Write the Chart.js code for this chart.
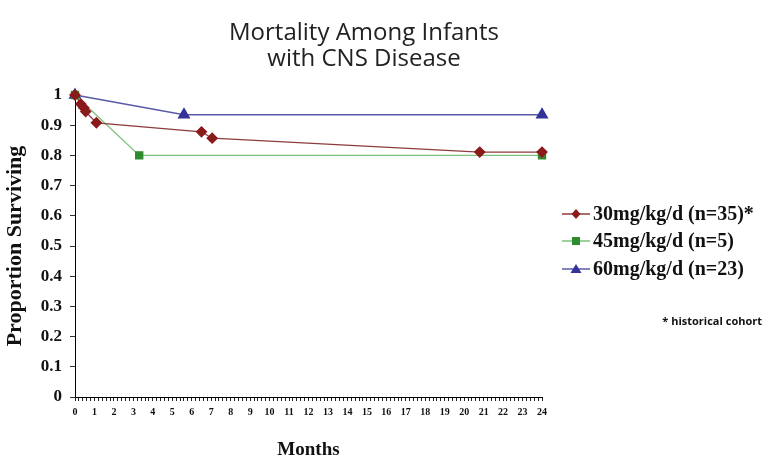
<!DOCTYPE html>
<html>
<head>
<meta charset="utf-8">
<script src="https://cdn.jsdelivr.net/npm/chart.js@4.4.1/dist/chart.umd.min.js"></script>
<style>
  html, body { margin: 0; padding: 0; background: #fff; }
  #wrap { width: 766px; height: 461px; position: relative; }
</style>
</head>
<body>
<div id="wrap"><canvas id="survChart"></canvas></div>
<script>
// --- data ---
const titleLines = ['Mortality Among Infants', 'with CNS Disease'];
const seriesNames = ['30mg/kg/d (n=35)*', '45mg/kg/d (n=5)', '60mg/kg/d (n=23)'];
const noteText = '* historical cohort';

const months30 = [0, 0.3, 0.45, 0.55, 1.1, 6.5, 7.05, 20.8, 24];
const surv30   = [1, 0.97, 0.958, 0.945, 0.908, 0.878, 0.857, 0.811, 0.811];
const months45 = [0, 3.3, 24];
const surv45   = [1, 0.80, 0.80];
const months60 = [0, 5.6, 24];
const surv60   = [1, 0.935, 0.935];

const yTicks = [0, 0.1, 0.2, 0.3, 0.4, 0.5, 0.6, 0.7, 0.8, 0.9, 1];
const monthTicks = [0, 1, 2, 3, 4, 5, 6, 7, 8, 9, 10, 11, 12, 13, 14, 15, 16, 17, 18, 19, 20, 21, 22, 23, 24];
const minorPerMonth = 5; // little tick marks between month labels

const toPts = (xs, ys) => xs.map((x, i) => ({ x: x, y: ys[i] }));

const serif = "'Liberation Serif', 'DejaVu Serif', serif";

// title + legend + note drawn by hand so the placement matches
const decorPlugin = {
    id: 'decor',
    afterDraw(chart) {
        const c = chart.ctx;
        c.save();
        // title
        c.fillStyle = '#222';
        c.font = "24px 'Open Sans', sans-serif";
        c.textAlign = 'center';
        c.textBaseline = 'middle';
        c.fillText(titleLines[0], 364, 33);
        c.fillText(titleLines[1], 364, 59);

        // legend
        const rows = [214, 241, 269];
        chart.data.datasets.forEach((ds, i) => {
            const y = rows[i];
            c.strokeStyle = ds.borderColor;
            c.lineWidth = 1.5;
            c.beginPath(); c.moveTo(562, y); c.lineTo(590, y); c.stroke();
            c.fillStyle = ds.pointBackgroundColor;
            const mx = 576;
            c.beginPath();
            if (ds.pointStyle === 'rectRot') {
                c.moveTo(mx, y - 5); c.lineTo(mx + 4.5, y); c.lineTo(mx, y + 5); c.lineTo(mx - 4.5, y);
            } else if (ds.pointStyle === 'rect') {
                c.rect(mx - 4, y - 4, 8, 8);
            } else {
                c.moveTo(mx, y - 5); c.lineTo(mx + 5.5, y + 4); c.lineTo(mx - 5.5, y + 4);
            }
            c.closePath(); c.fill();
            c.fillStyle = '#111';
            c.font = 'bold 20px ' + serif;
            c.textAlign = 'left';
            c.fillText(ds.label, 593, y + 1);
        });

        // footnote
        c.font = "bold 11px 'Open Sans', sans-serif";
        c.textAlign = 'right';
        c.fillText(noteText, 762, 322);
        c.restore();
    }
};

new Chart(document.getElementById('survChart'), {
    type: 'line',
    data: {
        datasets: [
            { label: seriesNames[0], data: toPts(months30, surv30), borderColor: '#8e3b3b', borderWidth: 1.3,
              pointStyle: 'rectRot', pointRadius: 5, pointBackgroundColor: '#8b1a1a', pointBorderColor: '#8b1a1a', tension: 0 },
            { label: seriesNames[1], data: toPts(months45, surv45), borderColor: '#7cc07c', borderWidth: 1.3,
              pointStyle: 'rect', pointRadius: 5, pointBackgroundColor: '#2e8b2e', pointBorderColor: '#2e8b2e', tension: 0 },
            { label: seriesNames[2], data: toPts(months60, surv60), borderColor: '#5a5aa8', borderWidth: 1.5,
              pointStyle: 'triangle', pointRadius: 6, pointBackgroundColor: '#33339a', pointBorderColor: '#33339a', tension: 0 }
        ]
    },
    options: {
        responsive: true, maintainAspectRatio: false, animation: false,
        clip: false,
        layout: { padding: { top: 95, right: 224, left: 0, bottom: 0 } },
        plugins: { legend: { display: false }, title: { display: false }, tooltip: { enabled: false } },
        scales: {
            x: {
                type: 'linear', min: 0, max: 24,
                afterFit: (s) => { s.height = 64; },
                afterBuildTicks: (s) => {
                    const t = [];
                    monthTicks.forEach((m, i) => {
                        t.push({ value: m });
                        if (i < monthTicks.length - 1) {
                            for (let k = 1; k < minorPerMonth; k++) t.push({ value: m + k / minorPerMonth });
                        }
                    });
                    s.ticks = t;
                },
                border: { color: '#000', width: 1 },
                grid: { drawOnChartArea: false, drawTicks: true, tickLength: 4, tickColor: '#222', tickWidth: 1 },
                ticks: {
                    autoSkip: false, maxRotation: 0, padding: 5,
                    color: '#111', font: { family: serif, weight: 'bold', size: 10 },
                    callback: (v) => Math.abs(v - Math.round(v)) < 1e-6 ? String(Math.round(v)) : ' '
                },
                title: { display: true, text: 'Months', color: '#111', font: { family: serif, weight: 'bold', size: 19 }, padding: { top: 0, bottom: 0 } }
            },
            y: {
                min: 0, max: 1,
                afterFit: (s) => { s.width = 75; },
                afterBuildTicks: (s) => { s.ticks = yTicks.map(v => ({ value: v })); },
                border: { color: '#000', width: 1 },
                grid: { drawOnChartArea: false, drawTicks: true, tickLength: 5, tickColor: '#333' },
                ticks: { padding: 8, color: '#111', font: { family: serif, weight: 'bold', size: 17 },
                         callback: (v) => String(Math.round(v * 10) / 10) },
                title: { display: true, text: 'Proportion Surviving', color: '#111', font: { family: serif, weight: 'bold', size: 22 }, padding: { top: 2, bottom: 0 } }
            }
        }
    },
    plugins: [decorPlugin]
});
</script>
</body>
</html>
